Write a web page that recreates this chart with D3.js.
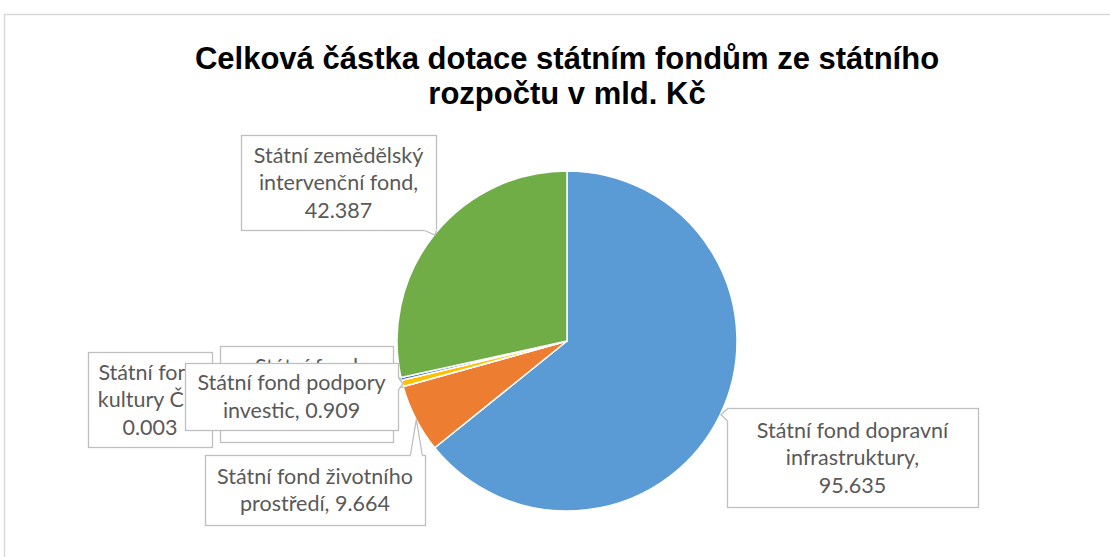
<!DOCTYPE html>
<html>
<head>
<meta charset="utf-8">
<script src="https://cdn.jsdelivr.net/npm/d3@7"></script>
<style>
  body { margin: 0; background: #fff; }
  svg { display: block; }
</style>
</head>
<body>
<script>
// data
var funds = [
  "Státní fond dopravní infrastruktury",
  "Státní fond životního prostředí",
  "Státní fond kultury ČR",
  "Státní fond podpory investic",
  "Státní fond kinematografie",
  "Státní zemědělský intervenční fond"
];
var values = [95.635, 9.664, 0.003, 0.909, 0.387, 42.387];
var colors = ["#5b9bd5", "#ed7d31", "#a5a5a5", "#ffc000", "#4472c4", "#70ad47"];
// wrapped label lines as in the chart
var labelLines = [
  ["Státní fond dopravní", "infrastruktury,", "95.635"],
  ["Státní fond životního", "prostředí, 9.664"],
  ["Státní fond", "kultury ČR,", "0.003"],
  ["Státní fond podpory", "investic, 0.909"],
  ["Státní fond", "kinematografie,", "0.387"],
  ["Státní zemědělský", "intervenční fond,", "42.387"]
];
var titleLines = ["Celková částka dotace státním fondům ze státního", "rozpočtu v mld. Kč"];

// layout of the callout boxes (x, y, w, h)
var boxes = [
  [727, 408, 251, 99],
  [205, 455, 220, 70],
  [88, 352, 124, 95],
  [185, 363, 213, 67],
  [220, 346, 173, 96],
  [241, 135, 195, 95]
];
// drawing order of the labels (later on top)
var drawOrder = [0, 1, 2, 4, 3, 5];

var width = 1110, height = 557;
var cx = 567, cy = 341, radius = 170;

var svg = d3.select("body").append("svg")
  .attr("width", width)
  .attr("height", height);

//chart area border
svg.append("rect")
  .attr("x", 4.5).attr("y", 14.5)
  .attr("width", width + 20).attr("height", height + 20)
  .attr("fill", "#fff")
  .attr("stroke", "#d9d9d9")
  .attr("stroke-width", 1.5);

//title
svg.append("text")
  .attr("x", cx).attr("y", 69)
  .attr("text-anchor", "middle")
  .style("font-family", "'Liberation Sans', Arial, sans-serif")
  .style("font-weight", "bold")
  .style("font-size", "31px")
  .attr("fill", "#000")
  .selectAll("tspan")
  .data(titleLines)
  .enter().append("tspan")
  .attr("x", cx)
  .attr("dy", function(d, i){ return i == 0 ? 0 : 35; })
  .text(function(d){ return d; });

//pie
var pie = d3.pie().sort(null).value(function(d){ return d; });
var arcs = pie(values);
var arc = d3.arc().innerRadius(0).outerRadius(radius);

var g = svg.append("g").attr("transform", "translate(" + cx + "," + cy + ")");
g.selectAll(".slice")
  .data(arcs)
  .enter().append("path")
  .attr("class", "slice")
  .attr("d", arc)
  .attr("fill", function(d, i){ return colors[i]; })
  .attr("stroke", "#fff")
  .attr("stroke-width", 1.5)
  .attr("stroke-linejoin", "round");

//anchor point of each callout on the pie edge
function anchorOf(d){
  var a = (d.startAngle + d.endAngle) / 2;
  return [cx + radius * Math.sin(a), cy - radius * Math.cos(a)];
}

//nearest point on box border
function nearestOnBox(b, p){
  var x0 = b[0], y0 = b[1], x1 = b[0] + b[2], y1 = b[1] + b[3];
  var px = Math.max(x0, Math.min(x1, p[0])), py = Math.max(y0, Math.min(y1, p[1]));
  var inside = p[0] > x0 && p[0] < x1 && p[1] > y0 && p[1] < y1;
  if (inside) return null;
  if (p[1] <= y0) return { side: "top", pt: [px, y0] };
  if (p[1] >= y1) return { side: "bottom", pt: [px, y1] };
  if (p[0] <= x0) return { side: "left", pt: [x0, py] };
  return { side: "right", pt: [x1, py] };
}

var labelFont = "Lato, 'Open Sans', sans-serif";
var labels = svg.append("g");

drawOrder.forEach(function(i){
  var b = boxes[i];
  var anchor = anchorOf(arcs[i]);
  var near = nearestOnBox(b, anchor);
  var lg = labels.append("g");
  var tail = null;
  if (near){
    var p = near.pt, half = 6, a1, a2;
    if (near.side == "top" || near.side == "bottom"){
      var xm = Math.max(b[0] + half, Math.min(b[0] + b[2] - half, p[0]));
      a1 = [xm - half, p[1]]; a2 = [xm + half, p[1]];
    } else {
      var ym = Math.max(b[1] + half, Math.min(b[1] + b[3] - half, p[1]));
      a1 = [p[0], ym - half]; a2 = [p[0], ym + half];
    }
    tail = [a1, anchor, a2];
  }
  if (tail){
    lg.append("path")
      .attr("d", d3.line()(tail) + "Z")
      .attr("fill", "#fff").attr("stroke", "none");
  }
  lg.append("rect")
    .attr("x", b[0] + 0.5).attr("y", b[1] + 0.5)
    .attr("width", b[2]).attr("height", b[3])
    .attr("fill", "#fff")
    .attr("stroke", "#bfbfbf")
    .attr("stroke-width", 1.3);
  if (tail){
    lg.append("line")
      .attr("x1", tail[0][0] + 0.5).attr("y1", tail[0][1] + 0.5)
      .attr("x2", tail[2][0] + 0.5).attr("y2", tail[2][1] + 0.5)
      .attr("stroke", "#fff").attr("stroke-width", 2.5);
    lg.append("path")
      .attr("d", d3.line()(tail.map(function(q){ return [q[0] + 0.5, q[1] + 0.5]; })))
      .attr("fill", "none")
      .attr("stroke", "#bfbfbf")
      .attr("stroke-width", 1.3);
  }
  var lines = labelLines[i];
  var lh = 27.5;
  var mid = b[1] + b[3] / 2;
  var first = mid - (lines.length - 1) * lh / 2;
  lg.append("text")
    .attr("text-anchor", "middle")
    .style("font-family", labelFont)
    .style("font-size", "21.5px")
    .attr("fill", "#595959")
    .selectAll("tspan")
    .data(lines)
    .enter().append("tspan")
    .attr("x", b[0] + b[2] / 2)
    .attr("y", function(d, k){ return first + k * lh; })
    .attr("dy", "0.35em")
    .text(function(d){ return d; });
});
</script>
</body>
</html>
